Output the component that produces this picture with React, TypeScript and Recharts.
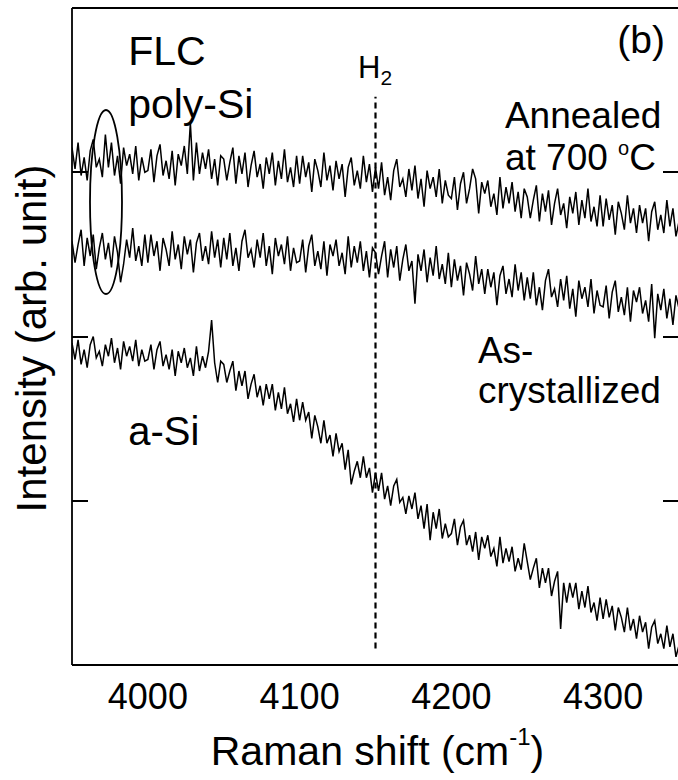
import React from 'react';
import { LineChart, Line, XAxis, YAxis, ReferenceLine, ReferenceDot, Label } from 'recharts';

const FONT = '"Liberation Sans", Arial, sans-serif';

// Raman shift sampling grid (cm^-1)
const X_START = 3950;
const X_STEP = 2;
const X_DOMAIN = [3950, 4350];
const Y_DOMAIN = [0, 4];
const xTicks = [4000, 4100, 4200, 4300];
const yTicks = [1, 2, 3];

// Annealed at 700 °C (top trace)
const annealed = [
  3.15, 3.02, 3.18, 2.98, 3.09, 2.95, 3.13, 3.20, 3.03, 3.08, 2.97, 3.23, 3.03, 3.18, 2.98, 3.10, 2.93, 3.15, 3.04, 3.11, 2.99, 3.16, 2.95, 3.09, 3.00,
  3.01, 3.14, 2.94, 3.10, 3.17, 2.98, 3.07, 2.96, 3.13, 2.92, 3.11, 3.04, 3.16, 2.99, 3.30, 2.95, 3.18, 2.99, 3.12, 3.02, 3.14, 2.96, 3.08, 2.92, 3.10,
  3.08, 2.95, 3.06, 3.15, 2.93, 3.10, 2.99, 3.12, 2.91, 3.04, 3.13, 2.97, 3.05, 2.90, 3.09, 2.99, 3.12, 2.92, 3.07, 2.96, 3.14, 2.94, 3.03, 2.91, 3.10,
  2.93, 3.10, 2.97, 3.06, 2.88, 3.08, 3.01, 2.91, 3.12, 2.95, 3.04, 2.89, 3.07, 2.96, 3.05, 2.85, 3.03, 3.09, 2.92, 3.01, 2.90, 3.10, 2.94, 3.05, 2.88,
  3.03, 2.90, 3.06, 2.86, 2.97, 2.83, 3.01, 3.08, 2.91, 2.96, 2.85, 3.02, 2.89, 3.04, 2.84, 2.96, 2.79, 3.01, 2.90, 2.97, 2.85, 3.02, 2.81, 2.95, 2.86,
  2.84, 2.97, 2.77, 2.93, 3.00, 2.81, 2.90, 3.02, 2.96, 2.75, 2.94, 2.87, 2.95, 2.79, 2.87, 2.74, 2.97, 2.78, 2.91, 2.81, 2.94, 2.76, 2.88, 2.72, 2.90,
  2.85, 2.72, 2.83, 2.92, 2.70, 2.87, 2.76, 2.89, 2.68, 2.81, 2.90, 2.74, 2.81, 2.66, 2.85, 2.75, 2.88, 2.68, 2.83, 2.72, 2.90, 2.70, 2.79, 2.67, 2.86,
  2.67, 2.84, 2.71, 2.80, 2.62, 2.82, 2.75, 2.65, 2.86, 2.69, 2.78, 2.63, 2.80, 2.69, 2.78, 2.58, 2.76, 2.82, 2.65, 2.74, 2.63, 2.83, 2.67, 2.78, 2.61,
  2.70,
];

// As-crystallized (middle trace)
const asCrystallized = [
  2.58, 2.45, 2.56, 2.65, 2.43, 2.60, 2.49, 2.62, 2.41, 2.54, 2.63, 2.47, 2.57, 2.42, 2.61, 2.51, 2.33, 2.44, 2.59, 2.48, 2.66, 2.46, 2.55, 2.43, 2.62,
  2.45, 2.62, 2.49, 2.58, 2.40, 2.60, 2.53, 2.43, 2.64, 2.47, 2.56, 2.41, 2.61, 2.50, 2.59, 2.39, 2.57, 2.63, 2.46, 2.55, 2.44, 2.64, 2.48, 2.59, 2.42,
  2.60, 2.47, 2.63, 2.43, 2.54, 2.40, 2.58, 2.65, 2.48, 2.53, 2.42, 2.59, 2.48, 2.63, 2.43, 2.55, 2.38, 2.60, 2.49, 2.56, 2.44, 2.61, 2.40, 2.54, 2.45,
  2.46, 2.59, 2.39, 2.55, 2.62, 2.43, 2.52, 2.41, 2.58, 2.37, 2.56, 2.49, 2.59, 2.43, 2.51, 2.38, 2.61, 2.42, 2.55, 2.45, 2.58, 2.40, 2.52, 2.36, 2.54,
  2.51, 2.38, 2.49, 2.58, 2.36, 2.53, 2.42, 2.55, 2.34, 2.47, 2.56, 2.40, 2.46, 2.20, 2.50, 2.40, 2.53, 2.33, 2.48, 2.37, 2.55, 2.35, 2.44, 2.32, 2.51,
  2.30, 2.47, 2.34, 2.43, 2.25, 2.45, 2.38, 2.28, 2.49, 2.32, 2.41, 2.26, 2.41, 2.30, 2.39, 2.19, 2.37, 2.43, 2.26, 2.35, 2.24, 2.44, 2.28, 2.39, 2.22,
  2.36, 2.23, 2.39, 2.19, 2.30, 2.16, 2.34, 2.41, 2.24, 2.29, 2.18, 2.35, 2.22, 2.37, 2.17, 2.29, 2.12, 2.34, 2.23, 2.30, 2.18, 2.35, 2.14, 2.28, 2.19,
  2.18, 2.31, 2.11, 2.27, 2.34, 2.15, 2.24, 2.13, 2.30, 2.09, 2.28, 2.21, 2.30, 2.14, 2.22, 2.09, 2.32, 1.99, 2.26, 2.16, 2.29, 2.11, 2.23, 2.07, 2.25,
  2.17,
];

// a-Si (bottom trace)
const aSi = [
  1.96, 1.86, 1.98, 1.83, 1.92, 1.81, 1.95, 2.00, 1.87, 1.91, 1.82, 1.95, 1.88, 1.99, 1.84, 1.93, 1.80, 1.97, 1.88, 1.94, 1.85, 1.98, 1.82, 1.92, 1.85,
  1.86, 1.95, 1.80, 1.92, 1.97, 1.82, 1.89, 1.80, 1.92, 1.76, 1.91, 1.84, 1.93, 1.81, 1.87, 1.76, 1.94, 1.79, 1.88, 1.81, 1.91, 2.10, 1.84, 1.72, 1.85,
  1.83, 1.72, 1.79, 1.85, 1.67, 1.79, 1.70, 1.79, 1.62, 1.71, 1.77, 1.63, 1.70, 1.58, 1.71, 1.62, 1.71, 1.55, 1.66, 1.56, 1.69, 1.53, 1.59, 1.48, 1.62,
  1.49, 1.60, 1.49, 1.54, 1.38, 1.52, 1.45, 1.35, 1.49, 1.35, 1.40, 1.27, 1.41, 1.30, 1.35, 1.19, 1.31, 1.10, 1.18, 1.24, 1.14, 1.27, 1.14, 1.20, 1.05,
  1.17, 1.06, 1.17, 1.01, 1.09, 0.97, 1.09, 1.13, 0.99, 1.02, 0.92, 1.03, 0.95, 1.05, 0.89, 0.97, 0.83, 0.98, 0.76, 0.93, 0.83, 0.95, 0.77, 0.86, 0.78,
  0.80, 0.89, 0.73, 0.84, 0.88, 0.73, 0.79, 0.69, 0.81, 0.64, 0.78, 0.71, 0.79, 0.66, 0.71, 0.60, 0.78, 0.62, 0.71, 0.63, 0.72, 0.57, 0.65, 0.58, 0.74,
  0.63, 0.52, 0.59, 0.65, 0.47, 0.59, 0.50, 0.59, 0.42, 0.51, 0.57, 0.22, 0.50, 0.38, 0.50, 0.41, 0.50, 0.34, 0.45, 0.35, 0.48, 0.32, 0.38, 0.27, 0.41,
  0.28, 0.40, 0.29, 0.36, 0.21, 0.35, 0.29, 0.20, 0.35, 0.21, 0.28, 0.16, 0.30, 0.20, 0.26, 0.10, 0.23, 0.27, 0.13, 0.19, 0.10, 0.24, 0.11, 0.19, 0.05,
  0.12,
];

// H2 marker position and span
const h2Shift = 4150;
const h2Span = [0.1, 3.46];

const data = annealed.map((a, i) => ({
  x: X_START + i * X_STEP,
  annealed: a,
  asCrystallized: asCrystallized[i],
  aSi: aSi[i],
}));

// chart geometry
const CHART_W = 680;
const CHART_H = 780;
const LEFT_W = 72;
const RIGHT_W = 1;
const TOP_H = 8;
const BOTTOM_H = 115;
const TICK_LEN = 16;
const STROKE_W = 1.8;
const TICK_W = 2;

const txt = (content: React.ReactNode, size: number, anchor: string = 'start') => (p: any) => (
  <text x={p.cx} y={p.cy} fontSize={size} fontFamily={FONT} fill="#000" textAnchor={anchor}>
    {content}
  </text>
);

// inward tick marks for the left/right frame sides
const hTick = (dir: number, len: number) => (p: any) => (
  <rect
    x={dir < 0 ? p.cx - len : p.cx}
    y={Math.round(p.cy) - TICK_W / 2}
    width={len}
    height={TICK_W}
    fill="#000"
    stroke="none"
  />
);

const axisStroke = { stroke: '#000', strokeWidth: STROKE_W };
const tickStroke = { stroke: '#000', strokeWidth: TICK_W };

export default function App() {
  return (
    <div style={{ position: 'absolute', left: 0, top: 0, width: 678, height: 780, overflow: 'hidden', background: '#fff' }}>
      <LineChart width={CHART_W} height={CHART_H} data={data} margin={{ top: 0, right: 0, bottom: 0, left: 0 }}>
        <XAxis
          dataKey="x"
          type="number"
          domain={X_DOMAIN}
          ticks={[...xTicks]}
          height={BOTTOM_H}
          axisLine={axisStroke}
          tickLine={false}
          tickSize={0}
          tickMargin={18}
          tick={{ fontSize: 36, fill: '#000', fontFamily: FONT }}
          interval={0}
          allowDataOverflow
        >
          <Label
            content={(p: any) => {
              const vb = p.viewBox;
              const cx = vb.x + vb.width / 2 + 2;
              return (
                <text x={cx} y={vb.y + 100} fontSize={41} fontFamily={FONT} fill="#000" textAnchor="middle">
                  Raman shift (cm
                  <tspan fontSize={24} dy={-20}>-1</tspan>
                  <tspan dy={20}>)</tspan>
                </text>
              );
            }}
          />
        </XAxis>
        <XAxis
          xAxisId="top"
          orientation="top"
          dataKey="x"
          type="number"
          domain={X_DOMAIN}
          height={TOP_H}
          axisLine={axisStroke}
          tickLine={false}
          tick={false}
        />
        {/* mirrored zero-height axes that only carry the inward x tick marks */}
        <XAxis
          xAxisId="bottomMarks"
          orientation="bottom"
          mirror
          dataKey="x"
          type="number"
          domain={X_DOMAIN}
          ticks={[...xTicks]}
          interval={0}
          height={0}
          axisLine={false}
          tickLine={tickStroke}
          tickSize={TICK_LEN}
          tick={false}
        />
        <XAxis
          xAxisId="topMarks"
          orientation="top"
          mirror
          dataKey="x"
          type="number"
          domain={X_DOMAIN}
          ticks={[...xTicks]}
          interval={0}
          height={0}
          axisLine={false}
          tickLine={tickStroke}
          tickSize={TICK_LEN + 1}
          tick={false}
        />
        <YAxis
          type="number"
          domain={Y_DOMAIN}
          ticks={yTicks}
          width={LEFT_W}
          axisLine={axisStroke}
          tickLine={false}
          tick={false}
        >
          <Label
            content={(p: any) => {
              const vb = p.viewBox;
              const cx = 31;
              const cy = vb.y + vb.height / 2 + 2;
              return (
                <text
                  x={cx}
                  y={cy}
                  fontSize={42}
                  fontFamily={FONT}
                  fill="#000"
                  textAnchor="middle"
                  dominantBaseline="central"
                  transform={`rotate(-90 ${cx} ${cy})`}
                >
                  Intensity (arb. unit)
                </text>
              );
            }}
          />
        </YAxis>
        <YAxis
          yAxisId="right"
          orientation="right"
          type="number"
          domain={Y_DOMAIN}
          width={RIGHT_W}
          axisLine={axisStroke}
          tickLine={false}
          tick={false}
        />

        <Line dataKey="annealed" stroke="#000" strokeWidth={1.5} dot={false} isAnimationActive={false} />
        <Line dataKey="asCrystallized" stroke="#000" strokeWidth={1.5} dot={false} isAnimationActive={false} />
        <Line dataKey="aSi" stroke="#000" strokeWidth={1.5} dot={false} isAnimationActive={false} />

        {/* inward tick marks on the left and right sides */}
        {yTicks.map((t) => (
          <ReferenceDot key={`lf-${t}`} x={X_DOMAIN[0]} y={t} r={0} ifOverflow="visible" shape={hTick(1, TICK_LEN)} />
        ))}
        {yTicks.map((t) => (
          <ReferenceDot key={`rt-${t}`} x={X_DOMAIN[1]} y={t} r={0} ifOverflow="visible" shape={hTick(-1, TICK_LEN)} />
        ))}

        <ReferenceLine
          segment={[{ x: h2Shift, y: h2Span[0] }, { x: h2Shift, y: h2Span[1] }]}
          stroke="#000"
          strokeWidth={2.2}
          strokeDasharray="6 4"
        />
        <ReferenceDot
          x={3972.4}
          y={2.819}
          r={0}
          shape={(p: any) => (
            <ellipse cx={p.cx} cy={p.cy} rx={16} ry={92} fill="none" stroke="#000" strokeWidth={1.8} />
          )}
        />
        <ReferenceDot x={3987} y={3.653} r={0} shape={txt('FLC', 41)} />
        <ReferenceDot x={3987} y={3.33} r={0} shape={txt('poly-Si', 41)} />
        <ReferenceDot x={3987} y={1.339} r={0} shape={txt('a-Si', 40)} />
        <ReferenceDot x={4340.8} y={3.726} r={0} shape={txt('(b)', 39, 'end')} />
        <ReferenceDot
          x={4138.5}
          y={3.574}
          r={0}
          shape={txt(
            <>
              H<tspan fontSize={21} dy={7}>2</tspan>
            </>,
            31
          )}
        />
        <ReferenceDot x={4235.3} y={3.269} r={0} shape={txt('Annealed', 37)} />
        <ReferenceDot
          x={4235.3}
          y={3.014}
          r={0}
          shape={txt(
            <>
              at 700 <tspan fontSize={20} dy={-15}>o</tspan>
              <tspan dy={15}>C</tspan>
            </>,
            37
          )}
        />
        <ReferenceDot x={4217.5} y={1.839} r={0} shape={txt('As-', 37)} />
        <ReferenceDot x={4217.5} y={1.595} r={0} shape={txt('crystallized', 37)} />
      </LineChart>
    </div>
  );
}
